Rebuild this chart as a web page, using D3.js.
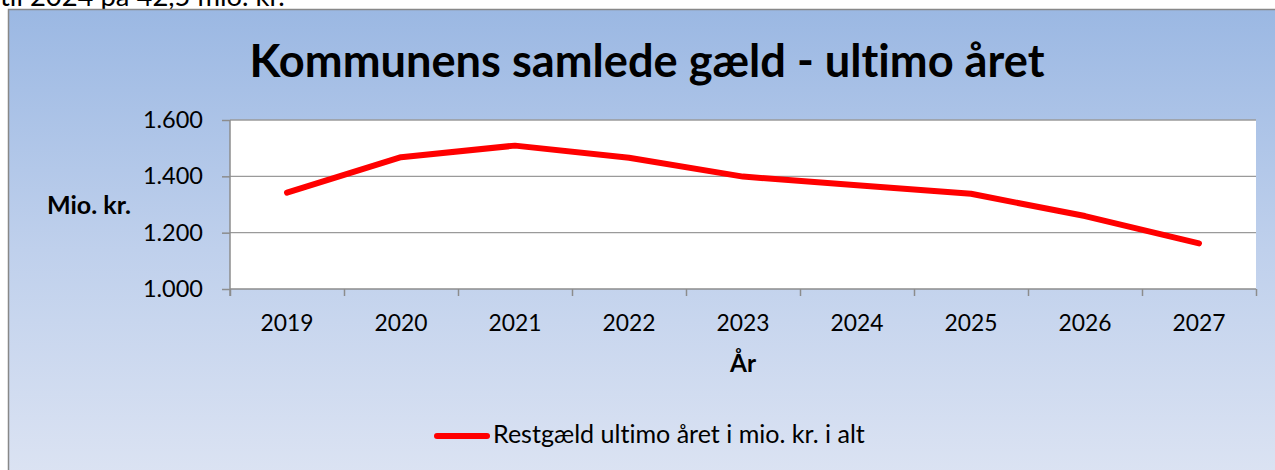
<!DOCTYPE html>
<html><head><meta charset="utf-8">
<script src="https://cdn.jsdelivr.net/npm/d3@7"></script>
<style>body{margin:0;background:#fff;overflow:hidden}svg{display:block;font-family:Lato,"Open Sans",sans-serif;font-variant-ligatures:none}</style>
</head><body>
<script>
const years = ["2019","2020","2021","2022","2023","2024","2025","2026","2027"];
const debt = [1342, 1468, 1509, 1466, 1399, 1368, 1338, 1259, 1162];
const yTicks = [1000, 1200, 1400, 1600];
const title = "Kommunens samlede gæld - ultimo året";
const yLabel = "Mio. kr.";
const xLabel = "År";
const seriesName = "Restgæld ultimo året i mio. kr. i alt";
const cutText = "til 2024 på 42,5 mio. kr.";

const W = 1275, H = 470;
const svg = d3.select("body").append("svg").attr("width", W).attr("height", H);

function fit(sel, w) {
  const n = sel.node(); const cur = n.getComputedTextLength();
  const fs = parseFloat(sel.attr("font-size"));
  sel.attr("font-size", fs * w / cur);
}

// text continuing from above the chart (clipped at the page top, as in the reference)
const ct = svg.append("text").attr("x", 0).attr("y", 6).attr("font-size", 21).attr("fill", "#000").text(cutText);
fit(ct, 285);

const defs = svg.append("defs");
const grad = defs.append("linearGradient").attr("id", "bg").attr("x1", 0).attr("y1", 0).attr("x2", 0).attr("y2", 1);
grad.append("stop").attr("offset", "0%").attr("stop-color", "#9bb8e3");
grad.append("stop").attr("offset", "50%").attr("stop-color", "#bfd0ec");
grad.append("stop").attr("offset", "100%").attr("stop-color", "#dde4f3");

svg.append("rect").attr("x", 8.5).attr("y", 9.5).attr("width", 1300).attr("height", 480)
  .attr("fill", "url(#bg)").attr("stroke", "#888").attr("stroke-width", 1.5);

const L = 230, R = 1256, T = 120, B = 289;
svg.append("rect").attr("x", L).attr("y", T).attr("width", R - L).attr("height", B - T).attr("fill", "#fff");

const y = d3.scaleLinear().domain([1000, 1600]).range([B, T]);
const x = d3.scaleBand().domain(years).range([L, R]).padding(0);
const xb = d3.scaleLinear().domain([0, years.length]).range([L, R]);

// gridlines
svg.append("g").selectAll("line").data(yTicks.slice(1)).join("line")
  .attr("x1", L).attr("x2", R).attr("y1", d => y(d)).attr("y2", d => y(d))
  .attr("stroke", "#9a9a9a").attr("stroke-width", 1.3);

// y axis
const fmt = v => d3.format(",")(v).replace(/,/g, ".");
const ya = svg.append("g").attr("transform", `translate(${L},0)`)
  .call(d3.axisLeft(y).tickValues(yTicks).tickSize(8).tickPadding(19).tickFormat(fmt));
ya.select(".domain").attr("stroke", "#8c8c8c").attr("stroke-width", 1.5).attr("d", `M0,${T}V${B+7}`);
ya.selectAll(".tick line").attr("stroke", "#8c8c8c").attr("stroke-width", 1.5);
ya.selectAll(".tick text").attr("font-size", 22).attr("fill", "#000").attr("font-family", "Lato");

// x axis boundary ticks
const xa = svg.append("g").attr("transform", `translate(0,${B})`)
  .call(d3.axisBottom(xb).tickValues(d3.range(years.length + 1)).tickSize(7).tickFormat(""));
xa.select(".domain").attr("stroke", "#8c8c8c").attr("stroke-width", 1.5).attr("d", `M${L},0H${R}`);
xa.selectAll(".tick line").attr("stroke", "#8c8c8c").attr("stroke-width", 1.5);

// x labels
const xl = svg.append("g").attr("transform", `translate(0,${B})`)
  .call(d3.axisBottom(x).tickSize(0).tickPadding(26));
xl.select(".domain").remove();
xl.selectAll(".tick text").attr("font-size", 22).attr("fill", "#000").attr("font-family", "Lato");

{
  const t = xl.select(".tick text"); const w = t.node().getComputedTextLength();
  const fs = 22 * 53 / w;
  xl.selectAll(".tick text").attr("font-size", fs);
  ya.selectAll(".tick text").attr("font-size", fs * 1.03);
}

// line
const line = d3.line().x((d, i) => x(years[i]) + x.bandwidth() / 2).y(d => y(d));
svg.append("path").datum(debt).attr("d", line).attr("fill", "none")
  .attr("stroke", "#ff0000").attr("stroke-width", 6).attr("stroke-linecap", "round").attr("stroke-linejoin", "round");

// title
const tt = svg.append("text").attr("x", 647).attr("y", 77).attr("text-anchor", "middle")
  .attr("font-size", 40).attr("font-weight", "bold").attr("fill", "#000").text(title);
fit(tt, 795);

// axis titles
const yl = svg.append("text").attr("x", 89).attr("y", 214).attr("text-anchor", "middle")
  .attr("font-size", 20).attr("font-weight", "bold").attr("fill", "#000").text(yLabel);
fit(yl, 84);
const xt = svg.append("text").attr("x", 743).attr("y", 372).attr("text-anchor", "middle")
  .attr("font-size", 20).attr("font-weight", "bold").attr("fill", "#000").text(xLabel);
fit(xt, 26);

// legend
svg.append("line").attr("x1", 437).attr("x2", 487).attr("y1", 436).attr("y2", 436)
  .attr("stroke", "#ff0000").attr("stroke-width", 6).attr("stroke-linecap", "round");
const lt = svg.append("text").attr("x", 493).attr("y", 443).attr("font-size", 20).attr("fill", "#000").text(seriesName);
fit(lt, 372);
</script>
</body></html>
